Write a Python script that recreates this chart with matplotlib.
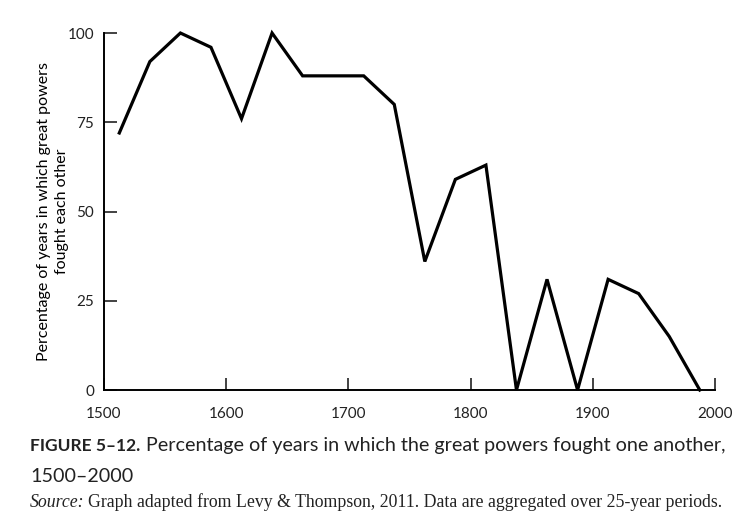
import matplotlib.pyplot as plt

# midpoints of 25-year periods
years = [1512.5, 1537.5, 1562.5, 1587.5, 1612.5, 1637.5, 1662.5, 1687.5, 1712.5, 1737.5,
         1762.5, 1787.5, 1812.5, 1837.5, 1862.5, 1887.5, 1912.5, 1937.5, 1962.5, 1987.5]
pct_war = [72, 92, 100, 96, 76, 100, 88, 88, 88, 80,
           36, 59, 63, 0, 31, 0, 31, 27, 15, 0]
x_ticks = [1500, 1600, 1700, 1800, 1900, 2000]
y_ticks = [0, 25, 50, 75, 100]

plt.rcParams['font.family'] = ['Lato', 'DejaVu Sans']

fig = plt.figure(figsize=(7.5, 5.24), dpi=100)
ax = fig.add_axes([0.1387, 0.2557, 0.8147, 0.6813])

ax.plot(years, pct_war, color="black", linewidth=2.3, solid_joinstyle="miter", clip_on=False)

ax.set_xlim(1500, 2000)
ax.set_ylim(0, 100)
ax.set_xticks(x_ticks)
ax.set_yticks(y_ticks)
ax.tick_params(axis="both", direction="in", length=9, width=1.2, labelsize=11, pad=7, colors="#222222")
ax.tick_params(axis="x", pad=12)
ax.spines["top"].set_visible(False)
ax.spines["right"].set_visible(False)
ax.spines["left"].set_linewidth(1.4)
ax.spines["bottom"].set_linewidth(1.4)

ax.set_ylabel("Percentage of years in which great powers\nfought each other", fontsize=11.5, linespacing=1.3)
ax.yaxis.set_label_coords(-0.058, 0.5)

fig.text(0.04, 0.14, "FIGURE 5\u201312.", fontsize=12.5, fontweight="bold", color="#222222")
fig.text(0.195, 0.14, "Percentage of years in which the great powers fought one another,",
         fontsize=14.2, color="#222222")
fig.text(0.04, 0.08, "1500\u20132000", fontsize=14.2, color="#222222")
fig.text(0.04, 0.033, "Source:", fontsize=12.8, style="italic", family="Liberation Serif", color="#222222")
fig.text(0.117, 0.033, "Graph adapted from Levy & Thompson, 2011. Data are aggregated over 25-year periods.",
         fontsize=12.8, family="Liberation Serif", color="#222222")

fig.savefig("out.png", dpi=100)
